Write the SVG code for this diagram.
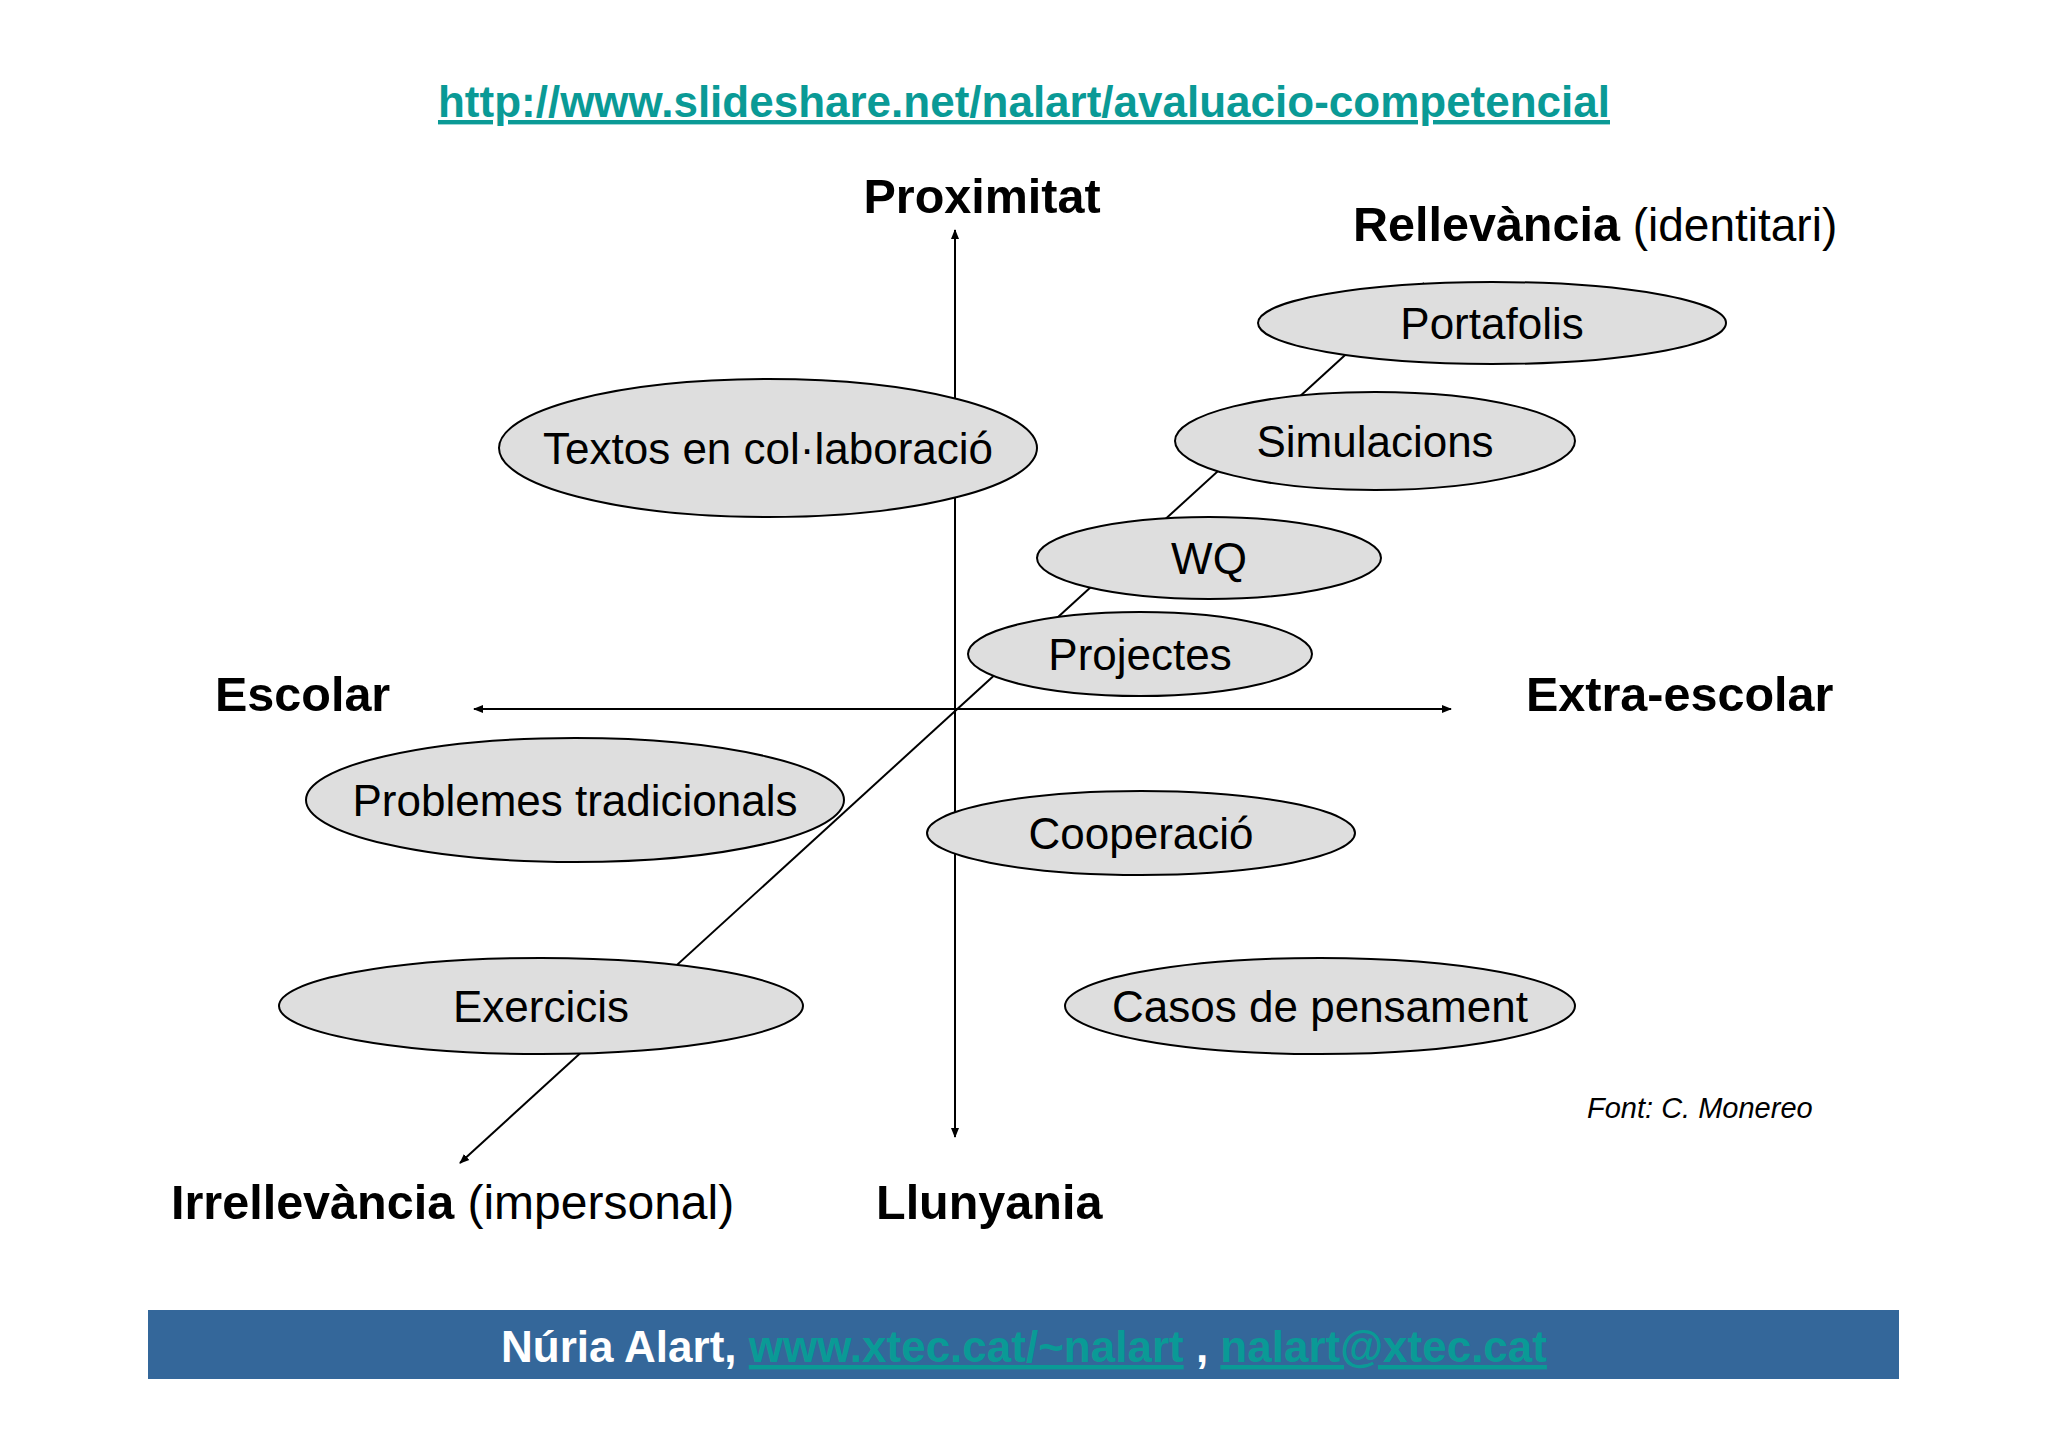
<svg xmlns="http://www.w3.org/2000/svg" width="2048" height="1447" viewBox="0 0 2048 1447">
<style>
text{font-family:"Liberation Sans",Arial,sans-serif;fill:#000}
.ax{font-weight:bold;font-size:48.5px}
.n ellipse{fill:#dedede;stroke:#000;stroke-width:2}
.n text{font-size:44px;text-anchor:middle}
.ln{stroke:#000;stroke-width:2;fill:none}
.lk{fill:#0a9a96;text-decoration:underline}
</style>
<defs><marker id="a" markerWidth="10" markerHeight="10" refX="9" refY="5" orient="auto" markerUnits="userSpaceOnUse" viewBox="0 0 10 10"><path d="M0,1 L10,5 L0,9 z" fill="#000"/></marker></defs>
<rect width="2048" height="1447" fill="#fff"/>
<text x="1024" y="117" text-anchor="middle" font-size="44" font-weight="bold" class="lk">http://www.slideshare.net/nalart/avaluacio-competencial</text>
<g id="connectors">
<line class="ln" x1="955" y1="709" x2="955" y2="230" marker-end="url(#a)"/>
<line class="ln" x1="955" y1="709" x2="955" y2="1137" marker-end="url(#a)"/>
<line class="ln" x1="955" y1="709" x2="474" y2="709" marker-end="url(#a)"/>
<line class="ln" x1="955" y1="709" x2="1451" y2="709" marker-end="url(#a)"/>
<line class="ln" x1="1424" y1="283" x2="460" y2="1163" marker-end="url(#a)"/>
</g>
<text class="ax" x="982" y="213" text-anchor="middle">Proximitat</text>
<text x="1353" y="241" font-size="48.5"><tspan font-weight="bold">Rellevància</tspan><tspan font-size="46"> (identitari)</tspan></text>
<text class="ax" x="215" y="711">Escolar</text>
<text class="ax" x="1526" y="711">Extra-escolar</text>
<text x="171" y="1219" font-size="48.5"><tspan font-weight="bold">Irrellevància</tspan><tspan font-size="48"> (impersonal)</tspan></text>
<text class="ax" x="876" y="1219">Llunyania</text>
<text x="1587" y="1118" font-size="29" font-style="italic">Font: C. Monereo</text>
<g id="portafolis" class="n"><ellipse cx="1492" cy="323" rx="234" ry="41"/><text x="1492" y="339">Portafolis</text></g>
<g id="simulacions" class="n"><ellipse cx="1375" cy="441" rx="200" ry="49"/><text x="1375" y="457">Simulacions</text></g>
<g id="wq" class="n"><ellipse cx="1209" cy="558" rx="172" ry="41"/><text x="1209" y="574">WQ</text></g>
<g id="projectes" class="n"><ellipse cx="1140" cy="654" rx="172" ry="42"/><text x="1140" y="670">Projectes</text></g>
<g id="textos" class="n"><ellipse cx="768" cy="448" rx="269" ry="69"/><text x="768" y="464">Textos en col·laboració</text></g>
<g id="problemes" class="n"><ellipse cx="575" cy="800" rx="269" ry="62"/><text x="575" y="816">Problemes tradicionals</text></g>
<g id="cooperacio" class="n"><ellipse cx="1141" cy="833" rx="214" ry="42"/><text x="1141" y="849">Cooperació</text></g>
<g id="exercicis" class="n"><ellipse cx="541" cy="1006" rx="262" ry="48"/><text x="541" y="1022">Exercicis</text></g>
<g id="casos" class="n"><ellipse cx="1320" cy="1006" rx="255" ry="48"/><text x="1320" y="1022">Casos de pensament</text></g>
<rect x="148" y="1310" width="1751" height="69" fill="#34679a"/>
<text x="1024" y="1362" text-anchor="middle" font-size="44" font-weight="bold" style="fill:#fff">Núria Alart, <tspan class="lk">www.xtec.cat/~nalart</tspan> , <tspan class="lk">nalart@xtec.cat</tspan></text>
</svg>
